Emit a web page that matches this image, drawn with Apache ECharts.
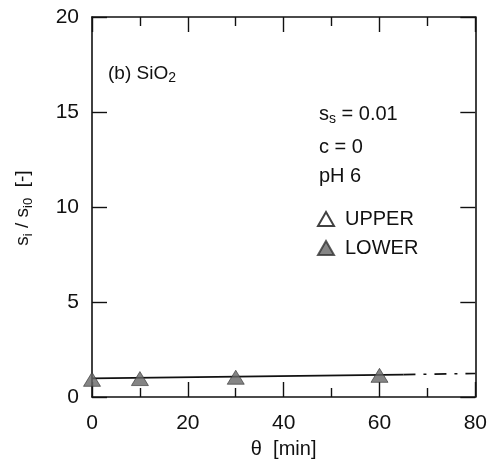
<!DOCTYPE html>
<html>
<head>
<meta charset="utf-8">
<script src="https://cdn.jsdelivr.net/npm/echarts@6/dist/echarts.min.js"></script>
<style>
  html, body { margin: 0; padding: 0; background: #fff; }
  #chart { width: 490px; height: 464px; }
</style>
</head>
<body>
<div id="chart"></div>
<script>
// measured points (LOWER), theta in min
let lowerTheta = [0, 10, 30, 60]
let lowerRatio = [0.93, 0.97, 1.04, 1.14]
// UPPER has no points in panel (b)
let upperTheta = []
let upperRatio = []
// fitted line, solid part then extrapolated dashed part
let fitSolidTheta = [0, 65]
let fitSolidRatio = [0.98, 1.18]
let fitDashTheta = [65, 80]
let fitDashRatio = [1.18, 1.24]

let xTicks = [0, 20, 40, 60, 80]
let yTicks = [0, 5, 10, 15, 20]

const font = 'Liberation Sans, Arial, sans-serif'
const toPairs = (xs, ys) => xs.map((x, i) => [x, ys[i]])

let myChart = echarts.init(document.getElementById('chart'))

const axisLine = {show: true, onZero: false, lineStyle: {color: '#111', width: 1.6}}
const tick = {show: true, inside: true, length: 15, lineStyle: {color: '#111', width: 1.4}}
const minor = {show: true, splitNumber: 2, length: 9, lineStyle: {color: '#111', width: 1.4}}

let option = {
  animation: false,
  backgroundColor: '#fff',
  grid: {left: 92, right: 13, top: 17, bottom: 61},
  xAxis: [
    {
      type: 'value', min: xTicks[0], max: xTicks[xTicks.length - 1], interval: 20,
      position: 'bottom',
      axisLine: axisLine, axisTick: tick, minorTick: minor,
      splitLine: {show: false},
      axisLabel: {fontFamily: font, fontSize: 21, color: '#111', margin: 16},
      name: 'θ  [min]', nameLocation: 'middle', nameGap: 42,
      nameTextStyle: {fontFamily: font, fontSize: 20, color: '#111'}
    },
    {
      type: 'value', min: 0, max: 80, interval: 20, position: 'top',
      axisLine: axisLine, axisTick: tick, minorTick: minor,
      splitLine: {show: false},
      axisLabel: {show: false}
    }
  ],
  yAxis: [
    {
      type: 'value', min: yTicks[0], max: yTicks[yTicks.length - 1], interval: 5,
      position: 'left',
      axisLine: axisLine, axisTick: tick,
      splitLine: {show: false},
      axisLabel: {fontFamily: font, fontSize: 21, color: '#111', margin: 13}
    },
    {
      type: 'value', min: 0, max: 20, interval: 5, position: 'right',
      axisLine: axisLine, axisTick: tick,
      splitLine: {show: false},
      axisLabel: {show: false}
    }
  ],
  legend: {
    orient: 'vertical',
    left: 312, top: 204,
    itemWidth: 16, itemHeight: 14, itemGap: 9,
    textStyle: {fontFamily: font, fontSize: 20, color: '#111', padding: [0, 0, 0, 6]},
    data: [
      {name: 'UPPER', icon: 'triangle'},
      {name: 'LOWER', icon: 'triangle'}
    ]
  },
  graphic: [
    {
      type: 'text', left: 108, top: 64,
      style: {
        text: '(b) SiO{sub|2}',
        fontFamily: font, fontSize: 19, fill: '#111',
        rich: {sub: {fontFamily: font, fontSize: 14, padding: [10, 0, 0, 0]}}
      }
    },
    {
      type: 'text', left: 319, top: 104,
      style: {
        text: 's{sub|s} = 0.01',
        fontFamily: font, fontSize: 20, fill: '#111',
        rich: {sub: {fontFamily: font, fontSize: 14, padding: [10, 0, 0, 0]}}
      }
    },
    {
      type: 'text', left: 319, top: 137,
      style: {text: 'c = 0', fontFamily: font, fontSize: 20, fill: '#111'}
    },
    {
      type: 'text', left: 319, top: 166,
      style: {text: 'pH 6', fontFamily: font, fontSize: 20, fill: '#111'}
    },
    {
      type: 'text', x: 23, y: 208, rotation: Math.PI / 2,
      style: {
        text: 's{sub|i} / s{sub|i0}  [-]',
        fontFamily: font, fontSize: 19, fill: '#111',
        align: 'center', verticalAlign: 'middle',
        rich: {sub: {fontFamily: font, fontSize: 13, padding: [10, 0, 0, 0]}}
      }
    }
  ],
  series: [
    {
      name: 'fit', type: 'line', data: toPairs(fitSolidTheta, fitSolidRatio),
      symbol: 'none', lineStyle: {color: '#111', width: 1.6}, z: 2
    },
    {
      name: 'fit-extrap', type: 'line', data: toPairs(fitDashTheta, fitDashRatio),
      symbol: 'none', lineStyle: {color: '#111', width: 1.6, type: [12, 8, 3, 8]}, z: 2
    },
    {
      name: 'UPPER', type: 'scatter', data: toPairs(upperTheta, upperRatio),
      symbol: 'triangle', symbolSize: [16, 14],
      itemStyle: {color: '#fff', borderColor: '#111', borderWidth: 1.3}
    },
    {
      name: 'LOWER', type: 'scatter', data: toPairs(lowerTheta, lowerRatio),
      symbol: 'triangle', symbolSize: [17, 14],
      itemStyle: {color: '#666', borderColor: '#333', borderWidth: 0.8}, z: 3
    }
  ]
}

myChart.setOption(option)
</script>
</body>
</html>
